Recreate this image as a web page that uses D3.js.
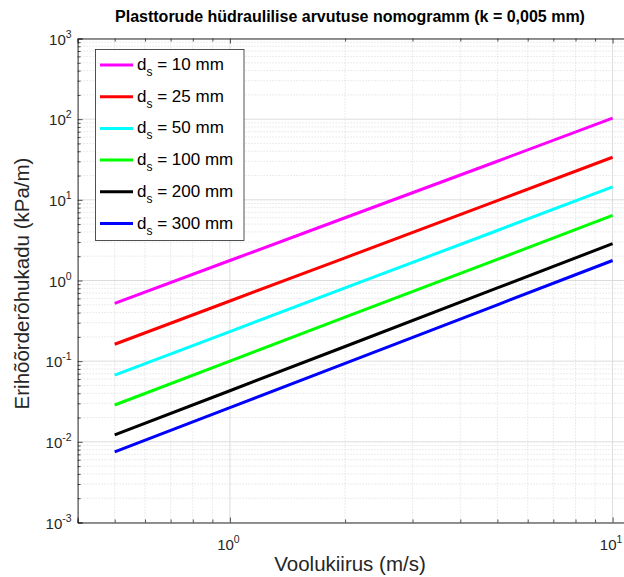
<!DOCTYPE html>
<html><head><meta charset="utf-8">
<script src="https://cdn.jsdelivr.net/npm/d3@7"></script>
<style>body{margin:0;background:#fff}svg{display:block}</style>
</head><body>
<svg id="c" width="624" height="577"></svg>
<script>
const titleText = "Plasttorude hüdraulilise arvutuse nomogramm (k = 0,005 mm)";
const xLabel = "Voolukiirus (m/s)";
const yLabel = "Erihõõrderõhukadu (kPa/m)";
const velocities = [0.5, 1, 2, 5, 10];
const diameters = ["10", "25", "50", "100", "200", "300"];
const colors = ["#ff00ff", "#ff0000", "#00ffff", "#00ff00", "#000000", "#0000ff"];
const loss10  = [0.52, 1.77, 6.0, 30.1, 103];
const loss25  = [0.162, 0.557, 1.91, 9.8, 33.7];
const loss50  = [0.067, 0.233, 0.81, 4.17, 14.5];
const loss100 = [0.0286, 0.100, 0.351, 1.83, 6.4];
const loss200 = [0.0122, 0.043, 0.152, 0.81, 2.86];
const loss300 = [0.0075, 0.0266, 0.094, 0.50, 1.77];
const seriesValues = [loss10, loss25, loss50, loss100, loss200, loss300];
const xMajorTicks = [1, 10];
const yMajorTicks = [1e-3, 1e-2, 1e-1, 1e0, 1e1, 1e2, 1e3];
const xDomain = [0.4, 11];
const yDomain = [1e-3, 1e3];

const svg = d3.select("#c");
const L = 77.6, T = 38.5, B = 522.5;
const dec = 382.7;
const R = L + dec * Math.log10(xDomain[1] / xDomain[0]);
const x = d3.scaleLog().domain(xDomain).range([L, R]);
const y = d3.scaleLog().domain(yDomain).range([B, T]);
const axCol = "#262626";
const font = "Liberation Sans, Arial, Helvetica, sans-serif";

const defs = svg.append("defs");
defs.append("clipPath").attr("id", "pc").append("rect").attr("x", L).attr("y", T).attr("width", R - L).attr("height", B - T);

// minor ticks
const xAll = [], yAll = [];
for (let e = -1; e <= 1; e++) for (let m = 1; m <= 9; m++) { const v = m * Math.pow(10, e); if (v >= xDomain[0] && v <= xDomain[1]) xAll.push(v); }
for (let e = -3; e <= 2; e++) for (let m = 1; m <= 9; m++) { const v = m * Math.pow(10, e); if (v >= yDomain[0] && v <= yDomain[1]) yAll.push(v); }
yAll.push(1e3);
const isMajor = v => Math.abs(Math.log10(v) - Math.round(Math.log10(v))) < 1e-9;
const xMinor = xAll.filter(v => !isMajor(v));
const yMinor = yAll.filter(v => !isMajor(v));

const grid = svg.append("g").attr("clip-path", "url(#pc)");
grid.selectAll(".gxm").data(xMinor).join("line")
  .attr("x1", d => x(d)).attr("x2", d => x(d)).attr("y1", T).attr("y2", B)
  .attr("stroke", "#cfcfcf").attr("stroke-width", 0.8).attr("stroke-dasharray", "1,2");
grid.selectAll(".gym").data(yMinor).join("line")
  .attr("y1", d => y(d)).attr("y2", d => y(d)).attr("x1", L).attr("x2", R)
  .attr("stroke", "#cfcfcf").attr("stroke-width", 0.8).attr("stroke-dasharray", "1,2");
grid.selectAll(".gxM").data(xMajorTicks).join("line")
  .attr("x1", d => x(d)).attr("x2", d => x(d)).attr("y1", T).attr("y2", B)
  .attr("stroke", "#dcdcdc").attr("stroke-width", 1);
grid.selectAll(".gyM").data(yMajorTicks).join("line")
  .attr("y1", d => y(d)).attr("y2", d => y(d)).attr("x1", L).attr("x2", R)
  .attr("stroke", "#dcdcdc").attr("stroke-width", 1);

// axes with d3 axis generators
const xAxisB = d3.axisBottom(x).tickValues(xAll).tickSize(-5).tickFormat("");
const xAxisT = d3.axisTop(x).tickValues(xAll).tickSize(-5).tickFormat("");
const yAxisL = d3.axisLeft(y).tickValues(yAll).tickSize(-5).tickFormat("");
function styleAxis(g) {
  g.select(".domain").attr("stroke", axCol).attr("stroke-width", 1);
  g.selectAll(".tick line").attr("stroke", axCol).attr("stroke-width", 0.8);
}
svg.append("g").attr("transform", `translate(0,${B})`).call(xAxisB).call(styleAxis)
  .selectAll(".tick").filter(d => !isMajor(d)).select("line").attr("y2", -3);
svg.append("g").attr("transform", `translate(0,${T})`).call(xAxisT).call(styleAxis)
  .selectAll(".tick").filter(d => !isMajor(d)).select("line").attr("y2", 3);
svg.append("g").attr("transform", `translate(${L},0)`).call(yAxisL).call(styleAxis)
  .selectAll(".tick").filter(d => !isMajor(d)).select("line").attr("x2", 3);

// tick labels with superscripts
function powLabel(g, px, py, exp, anchor) {
  const t = g.append("text").attr("x", px).attr("y", py).attr("text-anchor", anchor)
    .attr("font-family", font).attr("font-size", 15).attr("fill", axCol);
  t.append("tspan").text("10");
  t.append("tspan").attr("dy", -7).attr("font-size", 10.5).text(String(exp));
}
const lab = svg.append("g");
yMajorTicks.forEach(v => powLabel(lab, L - 6, y(v) + 6, Math.round(Math.log10(v)), "end"));
xMajorTicks.forEach(v => powLabel(lab, x(v) - 1.5, B + 27, Math.round(Math.log10(v)), "middle"));

// lines
const line = d3.line().x((d, i) => x(velocities[i])).y(d => y(d));
svg.append("g").attr("clip-path", "url(#pc)").selectAll("path").data(seriesValues).join("path")
  .attr("d", d => line(d)).attr("fill", "none")
  .attr("stroke", (d, i) => colors[i]).attr("stroke-width", 3).attr("stroke-linecap", "butt");

// title & labels
const cx = 350;
svg.append("text").attr("x", cx).attr("y", 22).attr("text-anchor", "middle")
  .attr("font-family", font).attr("font-size", 16).attr("font-weight", "bold").attr("fill", "#000").text(titleText);
svg.append("text").attr("x", cx).attr("y", 571).attr("text-anchor", "middle")
  .attr("font-family", font).attr("font-size", 20.5).attr("fill", axCol).text(xLabel);
svg.append("text").attr("transform", `translate(29,${(T + B) / 2 + 3}) rotate(-90)`).attr("text-anchor", "middle")
  .attr("font-family", font).attr("font-size", 20.5).attr("fill", axCol).text(yLabel);

// legend
const lg = svg.append("g");
lg.append("rect").attr("x", 95.5).attr("y", 49.5).attr("width", 148.5).attr("height", 191)
  .attr("fill", "#fff").attr("stroke", axCol).attr("stroke-width", 0.8);
diameters.forEach((d, i) => {
  const yy = 65 + i * 31.7;
  lg.append("line").attr("x1", 100).attr("x2", 133).attr("y1", yy).attr("y2", yy)
    .attr("stroke", colors[i]).attr("stroke-width", 3);
  const t = lg.append("text").attr("x", 137).attr("y", yy + 5).attr("font-family", font)
    .attr("font-size", 17).attr("fill", "#000");
  t.append("tspan").text("d");
  t.append("tspan").attr("dy", 6).attr("font-size", 12).text("s");
  t.append("tspan").attr("dy", -6).text(" = " + d + " mm");
});
</script>
</body></html>
